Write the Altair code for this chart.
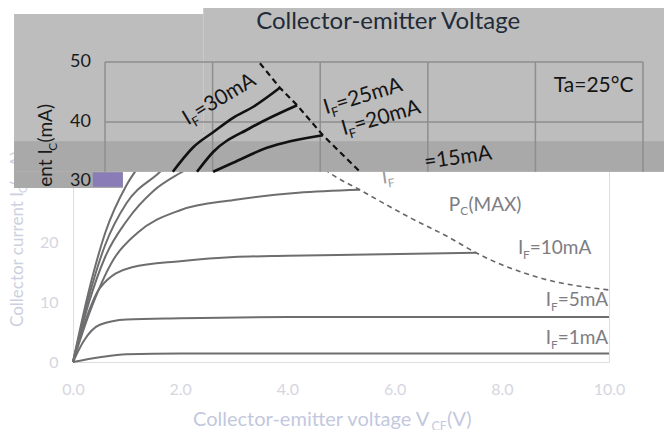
import altair as alt
import pandas as pd

FONT = "Lato"

# ---------------- data: lower (white) render, V_CE in V, I_C in mA ----------------
v_if1 = [0, 0.5, 1.0, 2.0, 10.0]
i_if1 = [0, 0.8, 1.3, 1.4, 1.4]
v_if5 = [0, 0.2, 0.5, 1.0, 2.0, 4.0, 10.0]
i_if5 = [0, 3.5, 6.2, 7.1, 7.3, 7.5, 7.5]
v_if10 = [0, 0.2, 0.5, 1.1, 2.0, 3.0, 4.0, 5.5, 7.52]
i_if10 = [0, 6.0, 12.3, 15.8, 16.8, 17.5, 17.7, 17.9, 18.2]
v_if15 = [0, 0.3, 0.75, 1.2, 2.0, 3.0, 4.2, 5.35]
i_if15 = [0, 8.0, 17.0, 21.5, 25.3, 27.0, 28.2, 28.7]
v_if20 = [0, 0.3, 0.6, 1.0, 1.5, 2.0, 3.0, 4.07]
i_if20 = [0, 10.0, 17.5, 23.5, 28.5, 31.5, 35.8, 37.8]
v_if25 = [0, 0.3, 0.6, 1.0, 1.6, 2.4, 3.0, 3.58]
i_if25 = [0, 11.0, 19.5, 26.5, 31.5, 38.0, 41.0, 42.8]
v_if30 = [0, 0.3, 0.6, 1.0, 1.4, 1.8, 2.4, 3.27]
i_if30 = [0, 12.0, 21.5, 29.5, 34.5, 38.0, 42.0, 45.7]
v_pc = [2.89, 3.3, 3.75, 4.25, 4.76, 5.35, 6.3, 7.03, 7.52, 8.64, 10.0]
i_pc = [49.8, 45.5, 40.5, 35.8, 31.7, 28.7, 24.0, 20.7, 18.2, 14.2, 12.0]

# ---------------- data: upper (grey band) render, visible parts only ----------------
vt_if30 = [1.26, 1.64, 2.01, 2.38, 2.75, 3.25]
it_if30 = [31.7, 35.8, 38.3, 40.7, 42.5, 45.7]
vt_if25 = [1.71, 2.01, 2.70, 3.57]
it_if25 = [31.7, 35.0, 39.0, 42.8]
vt_if20 = [2.01, 2.38, 3.01, 4.05]
it_if20 = [31.7, 33.2, 35.7, 37.8]
vt_pc = [2.88, 3.25, 3.57, 4.05, 4.33, 4.74]
it_pc = [49.8, 45.7, 42.8, 37.8, 35.3, 31.7]
top_grid_v = [0, 2, 4, 6, 8, 10]
top_grid_i = [50, 40]
band_edge = 31.7

x_ticks = [0, 2, 4, 6, 8, 10]
y_ticks = [0, 10, 20]
top_y_labels = ["50", "40", "30"]
top_y_values = [50, 40, 30.2]

# band backgrounds (in the lower render's V / I units)
band_x1 = [-1.1, 2.43, -1.1, -1.1, 0.37]
band_x2 = [2.43, 11.3, 11.3, 0.93, 0.93]
band_y1 = [31.7, 31.7, 31.7, 29.0, 29.2]
band_y2 = [58.0, 60.5, 36.8, 31.7, 31.6]
band_col = ["#bdbdbd", "#bdbdbd", "#a9a9a9", "#a9a9a9", "#8a7cb6"]

xs = alt.Scale(domain=[0, 10], nice=False, zero=False)
xs_top = alt.Scale(domain=[-0.595, 9.368], nice=False, zero=False)
ys = alt.Scale(domain=[0, 50], nice=False, zero=False)

yaxis = alt.Axis(values=y_ticks, title=None, ticks=False, domain=False, grid=False, labelFlush=False,
                 labelColor="#d6d6e0", labelFont=FONT, labelFontSize=16, labelPadding=15)
xaxis = alt.Axis(values=x_ticks, format=".1f", title=None, ticks=False, domain=False, grid=False,
                 labelFlush=False, labelColor="#d6d6e0", labelFont=FONT, labelFontSize=16,
                 labelPadding=19)

W = {" ": 0.19, "I": 0.27, "F": 0.53, "=": 0.58, "m": 0.86, "A": 0.68, "C": 0.66,
     "P": 0.6, "M": 0.88, "X": 0.65, "(": 0.3, ")": 0.3, "E": 0.56, "V": 0.68,
     "e": 0.53, "n": 0.56, "t": 0.35, "o": 0.57, "l": 0.25, "c": 0.47, "r": 0.37,
     "u": 0.56, "i": 0.25, "g": 0.51, "a": 0.5, "-": 0.34, "°": 0.4}
for d in "0123456789":
    W[d] = 0.58


def tw(s, size):
    return sum(W.get(c, 0.55) for c in s) * size


def curves(vs, iss, names):
    rows = []
    for v, i, n in zip(vs, iss, names):
        for a, b in zip(v, i):
            rows.append({"v": a, "i": b, "s": n})
    return pd.DataFrame(rows)


def text_layers(parts, v, i, angle, size, color, align="left", baseline="alphabetic"):
    out = []
    d = 0.0
    for txt, sub in parts:
        sz = size * 0.62 if sub else size
        dy = size * 0.24 if sub else 0
        out.append(
            alt.Chart(pd.DataFrame({"v": [v], "i": [i], "t": [txt]}))
            .mark_text(align=align, baseline=baseline, angle=angle, dx=d, dy=dy,
                       fontSize=sz, font=FONT, color=color)
            .encode(x=alt.X("v:Q", scale=xs, axis=None), y=alt.Y("i:Q", scale=ys, axis=yaxis),
                    text="t:N")
        )
        d += tw(txt, sz) + (0.5 if sub else 0)
    return out


layers = []

# lower render curves
low = curves([v_if1, v_if5, v_if10, v_if15, v_if20, v_if25, v_if30],
             [i_if1, i_if5, i_if10, i_if15, i_if20, i_if25, i_if30],
             ["1", "5", "10", "15", "20", "25", "30"])
layers.append(alt.Chart(low).mark_line(color="#6e6e70", strokeWidth=2, interpolate="monotone").encode(
    x=alt.X("v:Q", scale=xs, axis=xaxis), y=alt.Y("i:Q", scale=ys, axis=yaxis), detail="s:N"))
layers.append(alt.Chart(pd.DataFrame({"v": v_pc, "i": i_pc})).mark_line(
    color="#666", strokeWidth=1.6, strokeDash=[5, 4], interpolate="monotone").encode(
    x=alt.X("v:Q", scale=xs, axis=None), y=alt.Y("i:Q", scale=ys, axis=yaxis)))

# light y title (lower render)
layers += text_layers([("Collector current I", False), ("C", True), ("(mA)", False)],
                      -0.93, 5.83, 270, 17, "#cdd0e0")
layers += text_layers([("I", False), ("F", True)], 5.78, 29.7, 352, 19, "#9a9a9e")

# grey band backgrounds
band = pd.DataFrame({"x1": band_x1, "x2": band_x2, "y1": band_y1, "y2": band_y2, "c": band_col})
layers.append(alt.Chart(band).mark_rect().encode(
    x=alt.X("x1:Q", scale=xs, axis=None), x2="x2:Q",
    y=alt.Y("y1:Q", scale=ys, axis=yaxis), y2="y2:Q",
    color=alt.Color("c:N", scale=None)))

# upper render grid
gv = pd.DataFrame({"g": top_grid_v, "y1": [band_edge] * len(top_grid_v), "y2": [50] * len(top_grid_v)})
layers.append(alt.Chart(gv).mark_rule(color="#8e8e8e", strokeWidth=1.5).encode(
    x=alt.X("g:Q", scale=xs_top, axis=None), y=alt.Y("y1:Q", scale=ys, axis=yaxis), y2="y2:Q"))
gh = pd.DataFrame({"g": top_grid_i, "x1": [0] * len(top_grid_i), "x2": [10] * len(top_grid_i)})
layers.append(alt.Chart(gh).mark_rule(color="#8e8e8e", strokeWidth=1.5).encode(
    y=alt.Y("g:Q", scale=ys, axis=yaxis), x=alt.X("x1:Q", scale=xs_top, axis=None), x2="x2:Q"))

# upper render curves
top = curves([vt_if30, vt_if25, vt_if20], [it_if30, it_if25, it_if20], ["30", "25", "20"])
layers.append(alt.Chart(top).mark_line(color="#111", strokeWidth=2.6, interpolate="monotone").encode(
    x=alt.X("v:Q", scale=xs_top, axis=None), y=alt.Y("i:Q", scale=ys, axis=yaxis), detail="s:N"))
layers.append(alt.Chart(pd.DataFrame({"v": vt_pc, "i": it_pc})).mark_line(
    color="#111", strokeWidth=2.2, strokeDash=[6, 4]).encode(
    x=alt.X("v:Q", scale=xs_top, axis=None), y=alt.Y("i:Q", scale=ys, axis=yaxis)))

# dark texts of upper render
layers += text_layers([("Collector-emitter Voltage", False)], 5.88, 56.7, 0, 24, "#222b38",
                      align="center", baseline="middle")
layers += text_layers([("I", False), ("F", True), ("=30mA", False)], 2.14, 39.4, 329, 21, "#151515")
layers += text_layers([("I", False), ("F", True), ("=25mA", False)], 4.72, 41.3, 343, 21, "#151515")
layers += text_layers([("I", False), ("F", True), ("=20mA", False)], 5.05, 37.8, 344, 21, "#151515")
layers += text_layers([("=15mA", False)], 6.57, 32.2, 352, 21, "#151515")
layers += text_layers([("Ta=25°C", False)], 8.97, 45.0, 0, 21, "#151515")
layers += text_layers([("ent I", False), ("C", True), ("(mA)", False)], -0.39, 29.2, 270, 19, "#1a1a1a")
ylab = pd.DataFrame({"v": [0.336] * 3, "i": top_y_values, "t": top_y_labels})
layers.append(alt.Chart(ylab).mark_text(align="right", baseline="middle", fontSize=18, font=FONT,
                                        color="#1a1a1a").encode(
    x=alt.X("v:Q", scale=xs, axis=None), y=alt.Y("i:Q", scale=ys, axis=yaxis), text="t:N"))

# grey labels of lower render
layers += text_layers([("P", False), ("C", True), ("(MAX)", False)], 7.01, 25.2, 0, 19, "#7d7d84")
layers += text_layers([("I", False), ("F", True), ("=10mA", False)], 8.30, 18.0, 0, 19, "#7d7d84")
layers += text_layers([("I", False), ("F", True), ("=5mA", False)], 8.82, 9.33, 0, 19, "#7d7d84")
layers += text_layers([("I", False), ("F", True), ("=1mA", False)], 8.82, 3.0, 0, 19, "#7d7d84")
layers += text_layers([("Collector-emitter voltage V", False), ("CE", True), ("(V)", False)],
                      2.24, -10.7, 0, 20, "#c3c8de")

chart = alt.layer(*layers).resolve_scale(x="independent").properties(
    width=536, height=300,
    padding={"left": 65, "top": 54, "right": 55, "bottom": 68},
    autosize=alt.AutoSizeParams(type="none"),
).configure_view(stroke=None).configure(background="white")

chart.save("out.html", embed_options={"renderer": "svg", "actions": False})
